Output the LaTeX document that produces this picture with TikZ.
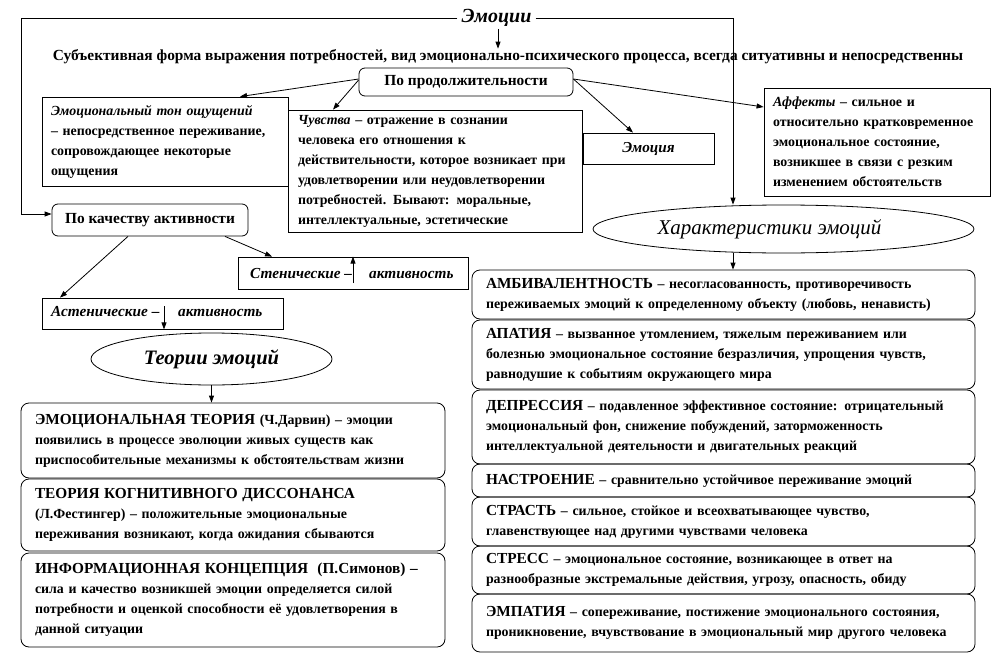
\documentclass[tikz,border=0pt]{standalone}
\usepackage{fontspec}
\setmainfont{Liberation Serif}
\usetikzlibrary{arrows.meta,shapes.geometric,calc}
\newcommand\hd[1]{{\fontsize{15.3}{20}\selectfont #1}}
\begin{document}
\begin{tikzpicture}[x=1pt,y=-1pt,
  every node/.style={font=\bfseries\fontsize{13.9}{20}\selectfont},
  sq/.style={draw, line width=0.8pt, align=left, inner xsep=9pt, inner ysep=0pt},
  rnd/.style={sq, rounded corners=8pt, inner xsep=14pt},
  ell/.style={draw, line width=0.8pt, ellipse, inner sep=0pt},
  arr/.style={line width=0.8pt, -{Triangle[length=7pt,width=5pt]}},
  itx/.style={font=\bfseries\itshape\fontsize{15.3}{18}\selectfont, inner sep=0pt},
  big/.style={font=\bfseries\fontsize{15.4}{18}\selectfont},
  sz/.style n args={3}{minimum width=#1pt, minimum height=#2pt, text width=#3pt}]
\useasboundingbox (0,0) rectangle (1006,669);
% title and subtitle
\node[font=\bfseries\itshape\fontsize{20}{22}\selectfont, inner xsep=4pt, inner ysep=2pt] (emo) at (496.5,18) {Эмоции};
\node[big, inner sep=1pt] (sub) at (508,57) {Субъективная форма выражения потребностей, вид эмоционально-психического процесса, всегда ситуативны и непосредственны};
\coordinate (tl) at (21,18);
\coordinate (tr) at (733,18);
% top boxes
\node[sq, big, rounded corners=6pt, minimum width=214pt, minimum height=28pt, align=center] (prod) at (466,82) {По продолжительности};
\node[sq, sz={246}{89}{228}] (ton) at (165,141.5) {\textit{Эмоциональный тон ощущений}\\– непосредственное переживание,\\сопровождающее некоторые\\ощущения};
\node[sq, inner xsep=10pt, sz={294}{122}{274}] (chuv) at (435,171) {\textit{Чувства} – отражение в сознании\\человека его отношения к\\действительности, которое возникает при\\удовлетворении или неудовлетворении\\потребностей. Бывают: моральные,\\интеллектуальные, эстетические};
\node[sq, minimum width=131pt, minimum height=31pt, align=center, font=\bfseries\itshape\fontsize{15.2}{18}\selectfont] (emocia) at (648.5,148.5) {Эмоция};
\node[sq, sz={226}{108}{208}] (aff) at (877,142) {\textit{Аффекты} – сильное и\\относительно кратковременное\\эмоциональное состояние,\\возникшее в связи с резким\\изменением обстоятельств};
% activity
\node[sq, big, rounded corners=6pt, minimum width=196pt, minimum height=32pt, align=center] (kach) at (150,220) {По качеству активности};
\node[sq, minimum width=230pt, minimum height=32pt] (sten) at (353,273) {};
\node[itx, anchor=base west] (stenA) at (250,278) {Стенические –};
\node[itx, anchor=base west] (stenB) at (369,278) {активность};
\node[sq, minimum width=241pt, minimum height=31pt] (asten) at (162.5,313.5) {};
\node[itx, anchor=base west] (astenA) at (51,316) {Астенические –};
\node[itx, anchor=base west] (astenB) at (178,316) {активность};
\coordinate (sa) at (353,283);
\coordinate (aa) at (164,306);
% ellipses
\node[ell, minimum width=241pt, minimum height=52pt, font=\bfseries\itshape\fontsize{20.5}{22}\selectfont] (teor) at (211.5,359) {Теории эмоций};
\node[ell, minimum width=381pt, minimum height=48pt, font=\itshape\fontsize{21}{22}\selectfont] (har) at (783.5,229) {Характеристики эмоций\kern28pt};
% theories
\node[rnd, sz={424}{75}{396}] (t1) at (233,440.5) {\hd{ЭМОЦИОНАЛЬНАЯ ТЕОРИЯ} (Ч.Дарвин) – эмоции\\появились в процессе эволюции живых существ как\\приспособительные механизмы к обстоятельствам жизни};
\node[rnd, sz={424}{72}{396}] (t2) at (233,515) {\hd{ТЕОРИЯ КОГНИТИВНОГО ДИССОНАНСА}\\(Л.Фестингер) – положительные эмоциональные\\переживания возникают, когда ожидания сбываются};
\node[rnd, sz={424}{94}{396}] (t3) at (233,600) {\hd{ИНФОРМАЦИОННАЯ КОНЦЕПЦИЯ\ \ (П.Симонов) –}\\сила и качество возникшей эмоции определяется силой\\потребности и оценкой способности её удовлетворения в\\данной ситуации};
% characteristics
\node[rnd, sz={503}{49}{475}] (ambiv) at (723.5,294.5) {\hd{АМБИВАЛЕНТНОСТЬ} – несогласованность, противоречивость\\переживаемых эмоций к определенному объекту (любовь, ненависть)};
\node[rnd, sz={503}{69}{475}] (apat) at (723.5,354.5) {\hd{АПАТИЯ} – вызванное утомлением, тяжелым переживанием или\\болезнью эмоциональное состояние безразличия, упрощения чувств,\\равнодушие к событиям окружающего мира};
\node[rnd, sz={503}{74}{475}] (depr) at (723.5,427) {\hd{ДЕПРЕССИЯ} – подавленное эффективное состояние: отрицательный\\эмоциональный фон, снижение побуждений, заторможенность\\интеллектуальной деятельности и двигательных реакций};
\node[rnd, sz={503}{33}{475}] (nastr) at (723.5,480.5) {\hd{НАСТРОЕНИЕ} – сравнительно устойчивое переживание эмоций};
\node[rnd, sz={503}{49}{475}] (strast) at (723.5,521.5) {\hd{СТРАСТЬ} – сильное, стойкое и всеохватывающее чувство,\\главенствующее над другими чувствами человека};
\node[rnd, sz={503}{48}{475}] (stress) at (723.5,570) {\hd{СТРЕСС} – эмоциональное состояние, возникающее в ответ на\\разнообразные экстремальные действия, угрозу, опасность, обиду};
\node[rnd, sz={503}{58}{475}] (empat) at (723.5,623) {\hd{ЭМПАТИЯ} – сопереживание, постижение эмоционального состояния,\\проникновение, вчувствование в эмоциональный мир другого человека};
% connectors
\draw[arr] (emo.west) -- (tl) |- ([yshift=6pt]kach.west);
\draw[arr] (emo.east) -- (tr) -- (tr |- har.north);
\draw[arr] (emo.south -| 498,0) -- (sub.north -| 498,0);
\draw[arr] (tr |- har.south) -- (tr |- ambiv.north);
\draw[arr] (teor.south) -- (teor.south |- t1.north);
\draw[arr] ([yshift=3pt]prod.west) -- ([xshift=75pt]ton.north);
\draw[arr] ([yshift=2pt]prod.west) -- ([xshift=-102pt]chuv.north);
\draw[arr] ([yshift=3pt]prod.east) -- ([xshift=-15.5pt]emocia.north);
\draw[arr] ([yshift=3pt]prod.east) -- ([yshift=35pt]aff.west);
\draw[arr] ([xshift=-22pt]kach.south) -- ([xshift=-102.5pt]asten.north);
\draw[arr] ([xshift=75pt]kach.south) -- ([xshift=-81pt]sten.north);
\draw[arr] (sa) -- (sa |- sten.north);
\draw[arr] (aa) -- (aa |- asten.south);
\end{tikzpicture}
\end{document}
